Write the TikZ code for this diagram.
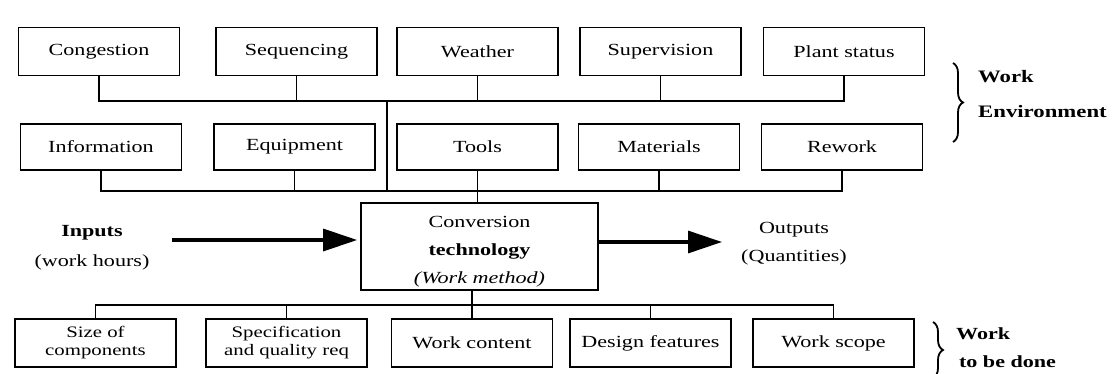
\documentclass[tikz,border=0pt]{standalone}
\usepackage{fontspec}
\setmainfont{Liberation Serif}[FakeStretch=1.3]
\usetikzlibrary{arrows.meta,decorations.pathreplacing}
\begin{document}
\begin{tikzpicture}[x=1pt,y=-1pt,
  box/.style={draw, line width=1.7pt, minimum width=161pt, minimum height=48pt,
    inner sep=2pt, align=center, font=\fontsize{17}{19}\selectfont},
  lbox/.style={box, font=\fontsize{16}{18}\selectfont},
  link/.style={line width=1.5pt},
  bigarrow/.style={line width=3.2pt, shorten >=3pt, -{Triangle[length=34pt,width=22pt]}},
  lab/.style={inner sep=0pt, align=center},
  brc/.style={decorate, decoration={brace, amplitude=10pt}, line width=1.8pt}
]
\useasboundingbox (0,0) rectangle (1114,373);
% row 1
\node[box] (cong)  at (99,51.5)  {Congestion};
\node[box] (seq)   at (296.5,51.5) {Sequencing};
\node[box] (weath) at (477.5,51.5) {Weather};
\node[box] (sup)   at (660.5,51.5) {Supervision};
\node[box] (plant) at (844,51.5) {Plant status};
% row 2
\node[box, minimum height=46pt] (info)  at (101,147)   {Information};
\node[box, minimum height=46pt] (equip) at (294.5,147) {Equipment};
\node[box, minimum height=46pt] (tools) at (477.5,147) {Tools};
\node[box, minimum height=46pt] (mat)   at (659,147)   {Materials};
\node[box, minimum height=46pt] (rew)   at (842,147)   {Rework};
% conversion
\node[box, minimum width=237pt, minimum height=87pt, font=\fontsize{17}{28}\selectfont]
  (conv) at (479.5,246.5) {\rule{0pt}{22pt}Conversion\\\textbf{technology}\\\textit{(Work method)}};
% row 3
\node[lbox] (size)   at (95.5,343)  {Size of\\components};
\node[lbox] (spec)   at (286.5,343) {Specification\\and quality req};
\node[box]  (wcont)  at (472,343)   {Work content};
\node[box]  (design) at (650.5,343) {Design features};
\node[box]  (scope)  at (833.5,343) {Work scope};
% buses
\coordinate (tby) at (0,101);
\coordinate (lby) at (0,191);
\coordinate (bby) at (0,305);
\coordinate (tbC) at (387,101);
\coordinate (lbC) at (387,191);
\draw[link] (cong.south) -- (cong.south |- tby) -- (plant.south |- tby) -- (plant.south);
\foreach \n in {seq,weath,sup} \draw[link] (\n.south) -- (\n.south |- tby);
\draw[link] (tbC) -- (lbC);
\draw[link] (info.south) -- (info.south |- lby) -- (rew.south |- lby) -- (rew.south);
\foreach \n in {equip,mat} \draw[link] (\n.south) -- (\n.south |- lby);
\draw[link] (tools.south) -- (tools.south |- conv.north);
\draw[link] (conv.south -| wcont.north) -- (wcont.north);
\draw[link] (size.north) -- (size.north |- bby) -- (scope.north |- bby) -- (scope.north);
\foreach \n in {spec,design} \draw[link] (\n.north) -- (\n.north |- bby);
% arrows
\coordinate (inS) at (172,240);
\coordinate (outE) at (725,242);
\draw[bigarrow] (inS) -- (inS -| conv.west);
\draw[bigarrow] (outE -| conv.east) -- (outE);
\node[lab, font=\fontsize{17}{30}\selectfont] (inp) at (92,248) {\textbf{Inputs}\\(work hours)};
\node[lab, font=\fontsize{17}{28}\selectfont] (outp) at (794,244) {Outputs\\(Quantities)};
% braces
\coordinate (b1a) at (953,63);
\coordinate (b1b) at (953,142);
\coordinate (b2a) at (933,322);
\coordinate (b2b) at (933,378);
\draw[brc] (b1a) -- (b1b);
\draw[brc] (b2a) -- (b2b);
\node[lab, align=left, anchor=west, font=\fontsize{17.5}{35}\selectfont] (we) at (978,94) {\textbf{Work}\\\textbf{Environment}};
\node[lab, align=left, anchor=west, font=\fontsize{17}{28}\selectfont] (wd) at (956,348) {\textbf{Work}\\\textbf{\,to be done}};
\end{tikzpicture}
\end{document}
